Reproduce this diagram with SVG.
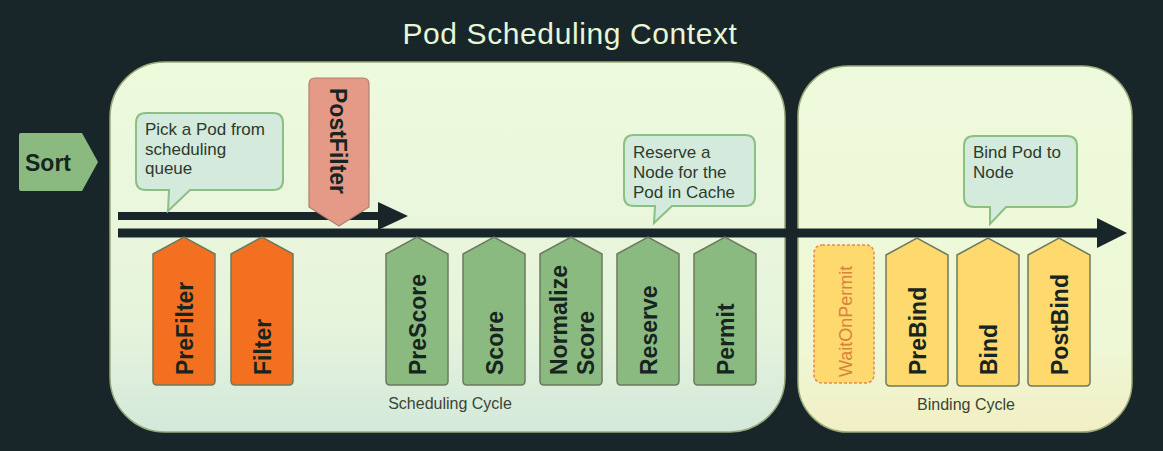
<svg xmlns="http://www.w3.org/2000/svg" width="1163" height="451" viewBox="0 0 1163 451">
<style>
.tag{stroke:#6e7a5e;stroke-width:1.5}
.orange{fill:#f37021}
.green{fill:#8aba80}
.yellow{fill:#fdd96e}
.lbl{font-family:"Liberation Sans",Arial,sans-serif;font-weight:bold;font-size:23px;fill:#17241f}
.call{fill:#d4eadc;stroke:#8cbf84;stroke-width:2}
.ctext{font-family:"Liberation Sans",Arial,sans-serif;font-size:17px;fill:#2d3a2c}
.cyc{font-family:"Liberation Sans",Arial,sans-serif;font-size:16px;fill:#3a4437}
</style>
<defs>
<linearGradient id="gSched" x1="0" y1="0" x2="0" y2="1">
<stop offset="0" stop-color="#eefadc"/>
<stop offset="0.7" stop-color="#e6f4dc"/>
<stop offset="1" stop-color="#d3e9db"/>
</linearGradient>
<linearGradient id="gBind" x1="0" y1="0" x2="0" y2="1">
<stop offset="0" stop-color="#eefadc"/>
<stop offset="0.75" stop-color="#eef8d6"/>
<stop offset="1" stop-color="#f2efc4"/>
</linearGradient>
<path id="tagShape" d="M0,17 L31,0 L62,17 L62,144 Q62,148 58,148 L4,148 Q0,148 0,144 Z"/>
</defs>
<rect width="1163" height="451" fill="#18262a"/>
<text x="570" y="44" text-anchor="middle" font-family="Liberation Sans,Arial,sans-serif" font-size="30" letter-spacing="0.6" fill="#e6f6d6">Pod Scheduling Context</text>
<g id="scheduling-cycle">
<rect x="110" y="62" width="675" height="370" rx="55" fill="url(#gSched)" stroke="#9aa97a" stroke-width="1.5"/>
<text class="cyc" x="450" y="409" text-anchor="middle">Scheduling Cycle</text>
</g>
<g id="binding-cycle">
<rect x="798" y="66" width="334" height="366" rx="50" fill="url(#gBind)" stroke="#9aa97a" stroke-width="1.5"/>
<text class="cyc" x="966" y="410" text-anchor="middle">Binding Cycle</text>
</g>
<g id="sort">
<path d="M21,133 L82,133 L98,162 L82,191 L21,191 Q19,191 19,189 L19,135 Q19,133 21,133 Z" fill="#8aba80"/>
<text class="lbl" x="25" y="171">Sort</text>
</g>
<g id="connectors">
<line x1="118" y1="216" x2="382" y2="216" stroke="#18262a" stroke-width="8"/>
<polygon points="378,202 408,216 378,230" fill="#18262a"/>
<line x1="118" y1="233" x2="1100" y2="233" stroke="#18262a" stroke-width="9"/>
<polygon points="1097,218 1127,233 1097,248" fill="#18262a"/>
</g>
<g id="callout-pick">
<path class="call" d="M146,113 L273,113 Q283,113 283,123 L283,180 Q283,190 273,190 L190,190 L168,211 L169,190 L146,190 Q136,190 136,180 L136,123 Q136,113 146,113 Z"/>
<text class="ctext" x="145" y="135">Pick a Pod from</text>
<text class="ctext" x="145" y="155">scheduling</text>
<text class="ctext" x="145" y="174">queue</text>
</g>
<g id="callout-reserve">
<path class="call" d="M634,135 L745,135 Q755,135 755,145 L755,196 Q755,206 745,206 L672,206 L654,223 L655,206 L634,206 Q624,206 624,196 L624,145 Q624,135 634,135 Z"/>
<text class="ctext" x="633" y="158">Reserve a</text>
<text class="ctext" x="633" y="178">Node for the</text>
<text class="ctext" x="633" y="198">Pod in Cache</text>
</g>
<g id="callout-bind">
<path class="call" d="M974,136 L1067,136 Q1077,136 1077,146 L1077,197 Q1077,207 1067,207 L1006,207 L990,224 L990,207 L974,207 Q964,207 964,197 L964,146 Q964,136 974,136 Z"/>
<text class="ctext" x="973" y="158">Bind Pod to</text>
<text class="ctext" x="973" y="178">Node</text>
</g>
<g id="postfilter">
<path d="M315,78 L363,78 Q369,78 369,84 L369,207 L339,226 L309,207 L309,84 Q309,78 315,78 Z" fill="#e49a87" stroke="#b08070" stroke-width="1.2"/>
<text class="lbl" transform="translate(330,88) rotate(90)">PostFilter</text>
</g>
<g id="prefilter">
<use href="#tagShape" class="tag orange" transform="translate(153,237)"/>
<text class="lbl" transform="translate(193,375) rotate(-90)">PreFilter</text>
</g>
<g id="filter">
<use href="#tagShape" class="tag orange" transform="translate(231,237)"/>
<text class="lbl" transform="translate(271,375) rotate(-90)">Filter</text>
</g>
<g id="prescore">
<use href="#tagShape" class="tag green" transform="translate(386,237)"/>
<text class="lbl" transform="translate(426,375) rotate(-90)">PreScore</text>
</g>
<g id="score">
<use href="#tagShape" class="tag green" transform="translate(463,237)"/>
<text class="lbl" transform="translate(503,375) rotate(-90)">Score</text>
</g>
<g id="normalize-score">
<use href="#tagShape" class="tag green" transform="translate(540,237)"/>
<text class="lbl" transform="translate(567,375) rotate(-90)">Normalize</text>
<text class="lbl" transform="translate(594,375) rotate(-90)">Score</text>
</g>
<g id="reserve">
<use href="#tagShape" class="tag green" transform="translate(617,237)"/>
<text class="lbl" transform="translate(657,375) rotate(-90)">Reserve</text>
</g>
<g id="permit">
<use href="#tagShape" class="tag green" transform="translate(694,237)"/>
<text class="lbl" transform="translate(734,375) rotate(-90)">Permit</text>
</g>
<g id="waitonpermit">
<rect x="814" y="245" width="60" height="138" rx="8" fill="#fdd96e" stroke="#e38a52" stroke-width="1.5" stroke-dasharray="3,2"/>
<text transform="translate(852,377) rotate(-90)" font-family="Liberation Sans,Arial,sans-serif" font-size="18" fill="#d9823c">WaitOnPermit</text>
</g>
<g id="prebind">
<use href="#tagShape" class="tag yellow" transform="translate(886,238)"/>
<text class="lbl" transform="translate(926,375) rotate(-90)">PreBind</text>
</g>
<g id="bind">
<use href="#tagShape" class="tag yellow" transform="translate(957,238)"/>
<text class="lbl" transform="translate(997,375) rotate(-90)">Bind</text>
</g>
<g id="postbind">
<use href="#tagShape" class="tag yellow" transform="translate(1028,238)"/>
<text class="lbl" transform="translate(1068,375) rotate(-90)">PostBind</text>
</g>
</svg>
